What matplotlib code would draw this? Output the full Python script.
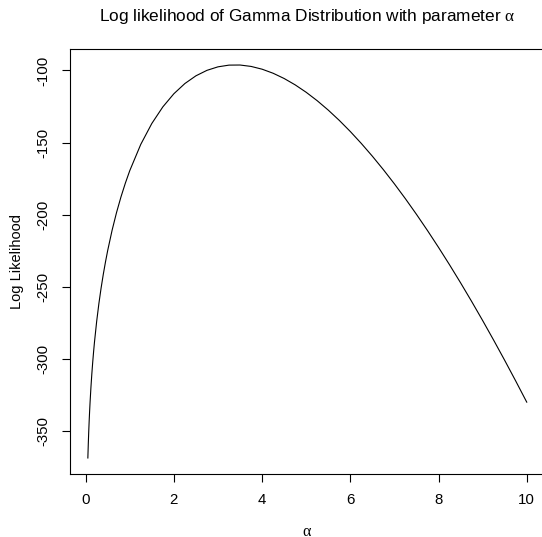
import matplotlib
matplotlib.use("Agg")
import matplotlib.pyplot as plt

plt.rcParams['font.family'] = ['Liberation Sans', 'DejaVu Sans']
plt.rcParams['mathtext.fontset'] = 'custom'
plt.rcParams['mathtext.rm'] = 'Liberation Serif'
plt.rcParams['mathtext.it'] = 'Liberation Serif'

# values
alpha = [0.05, 0.06, 0.07, 0.08, 0.09, 0.10, 0.12, 0.14, 0.16, 0.18, 0.20,
         0.25, 0.30, 0.35, 0.40, 0.45, 0.50, 0.60, 0.70, 0.80, 0.90,
         1.00, 1.25, 1.50, 1.75, 2.00, 2.25, 2.50, 2.75, 3.00, 3.25, 3.50,
         3.75, 4.00, 4.25, 4.50, 4.75, 5.00, 5.25, 5.50, 5.75, 6.00, 6.25,
         6.50, 6.75, 7.00, 7.25, 7.50, 7.75, 8.00, 8.25, 8.50, 8.75, 9.00,
         9.25, 9.50, 9.75, 10.00]
loglik = [-368.56, -358.67, -350.19, -342.75, -336.10, -330.09, -319.49,
          -310.34, -302.24, -294.96, -288.32, -273.86, -261.58, -250.85,
          -241.29, -232.65, -224.75, -210.71, -198.51, -187.74, -178.13,
          -169.48, -151.24, -136.79, -125.28, -116.18, -109.10, -103.76,
          -99.97, -97.54, -96.35, -96.28, -97.25, -99.17, -101.98, -105.62,
          -110.03, -115.18, -121.02, -127.52, -134.64, -142.35, -150.64,
          -159.46, -168.80, -178.64, -188.96, -199.75, -210.98, -222.64,
          -234.71, -247.19, -260.06, -273.31, -286.93, -300.90, -315.22,
          -329.87]
xticks = [0, 2, 4, 6, 8, 10]
yticks = [-350, -300, -250, -200, -150, -100]

W, H = 542, 537
fig = plt.figure(figsize=(W / 100, H / 100), dpi=100)
left, right, top, bottom = 70.3, 544.3, 49.3, 473.7
ax = fig.add_axes([left / W, 1 - bottom / H, (right - left) / W, (bottom - top) / H])

ax.plot(alpha, loglik, color='black', linewidth=0.8)
ax.margins(x=0.04, y=0.04)

ax.set_xticks(xticks)
ax.set_yticks(yticks)
ax.set_xticklabels([str(t) for t in xticks])
ax.set_yticklabels([str(t) for t in yticks])
ax.tick_params(axis='both', direction='out', length=6, width=0.8,
               labelsize=10.8, color='black')
ax.tick_params(axis='x', pad=8)
ax.tick_params(axis='y', pad=8)
for lab in ax.get_yticklabels():
    lab.set_rotation(90)
    lab.set_va('center')
for s in ax.spines.values():
    s.set_linewidth(0.8)
    s.set_color('black')

cx = (left + right) / 2 / W
fig.text(cx, 1 - 16 / H, r'Log likelihood of Gamma Distribution with parameter $\alpha$',
         ha='center', va='center', fontsize=12.4)
fig.text(cx, 1 - 531 / H, r'$\alpha$', ha='center', va='center', fontsize=11.5)
fig.text(17 / W, 1 - 261.5 / H, 'Log Likelihood', rotation=90,
         ha='center', va='center', fontsize=10.5)

fig.savefig('out.png', dpi=100)
